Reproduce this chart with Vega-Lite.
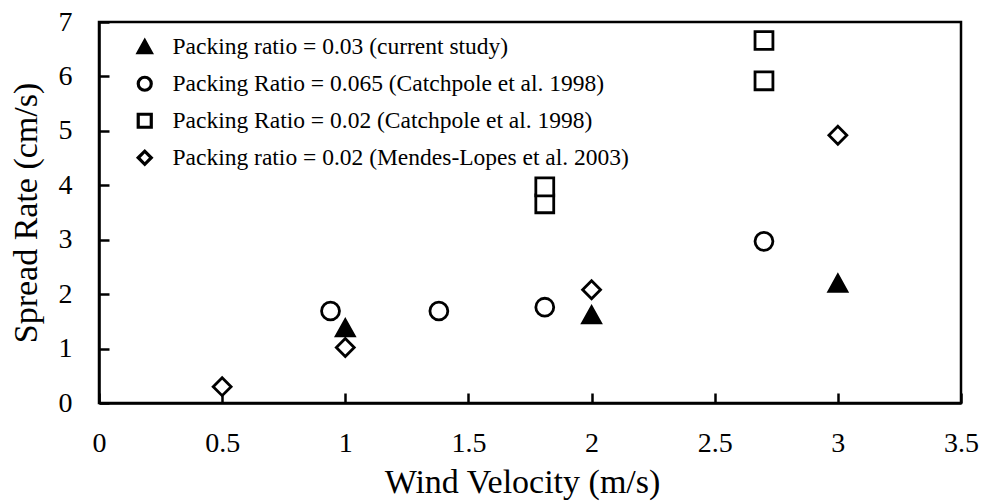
{
  "$schema": "https://vega.github.io/schema/vega-lite/v6.json",
  "width": 862,
  "height": 381,
  "autosize": {"type": "none"},
  "padding": {"left": 99, "top": 22, "right": 21, "bottom": 99},
  "background": "white",
  "config": {
    "font": "Liberation Serif",
    "view": {"stroke": "black", "strokeWidth": 2.5},
    "axis": {
      "grid": false,
      "domainColor": "black",
      "domainWidth": 2.5,
      "tickColor": "black",
      "tickWidth": 2.5,
      "tickSize": -10,
      "labelColor": "black",
      "labelFontSize": 28,
      "labelFont": "Liberation Serif",
      "titleFont": "Liberation Serif",
      "titleFontSize": 34,
      "titleFontWeight": "normal",
      "titleColor": "black"
    },
    "legend": {
      "labelFont": "Liberation Serif",
      "labelFontSize": 23.5,
      "labelColor": "black"
    }
  },
  "data": {
    "values": [
      {"series": "Packing ratio = 0.03 (current study)", "wind": 1.0, "rate": 1.38},
      {"series": "Packing ratio = 0.03 (current study)", "wind": 2.0, "rate": 1.62},
      {"series": "Packing ratio = 0.03 (current study)", "wind": 3.0, "rate": 2.2},
      {"series": "Packing Ratio = 0.065 (Catchpole et al. 1998)", "wind": 0.94, "rate": 1.69},
      {"series": "Packing Ratio = 0.065 (Catchpole et al. 1998)", "wind": 1.38, "rate": 1.69},
      {"series": "Packing Ratio = 0.065 (Catchpole et al. 1998)", "wind": 1.81, "rate": 1.76},
      {"series": "Packing Ratio = 0.065 (Catchpole et al. 1998)", "wind": 2.7, "rate": 2.97},
      {"series": "Packing Ratio = 0.02 (Catchpole et al. 1998)", "wind": 1.81, "rate": 3.66},
      {"series": "Packing Ratio = 0.02 (Catchpole et al. 1998)", "wind": 1.81, "rate": 3.97},
      {"series": "Packing Ratio = 0.02 (Catchpole et al. 1998)", "wind": 2.7, "rate": 5.92},
      {"series": "Packing Ratio = 0.02 (Catchpole et al. 1998)", "wind": 2.7, "rate": 6.66},
      {"series": "Packing ratio = 0.02 (Mendes-Lopes et al. 2003)", "wind": 0.5, "rate": 0.3},
      {"series": "Packing ratio = 0.02 (Mendes-Lopes et al. 2003)", "wind": 1.0, "rate": 1.02},
      {"series": "Packing ratio = 0.02 (Mendes-Lopes et al. 2003)", "wind": 2.0, "rate": 2.08},
      {"series": "Packing ratio = 0.02 (Mendes-Lopes et al. 2003)", "wind": 3.0, "rate": 4.92}
    ]
  },
  "mark": {"type": "point", "stroke": "black", "strokeWidth": 2.8, "size": 320, "opacity": 1},
  "encoding": {
    "x": {
      "field": "wind", "type": "quantitative",
      "title": "Wind Velocity (m/s)",
      "scale": {"domain": [0, 3.5], "nice": false, "zero": false},
      "axis": {"values": [0, 0.5, 1, 1.5, 2, 2.5, 3, 3.5], "format": "~g", "labelPadding": 36, "titlePadding": 8, "titleX": 423, "labelFlush": false, "labelOverlap": false}
    },
    "y": {
      "field": "rate", "type": "quantitative",
      "title": "Spread Rate (cm/s)",
      "scale": {"domain": [0, 7], "nice": false},
      "axis": {"values": [0, 1, 2, 3, 4, 5, 6, 7], "labelPadding": 37, "titlePadding": 15, "labelFlush": false, "labelOverlap": false}
    },
    "shape": {
      "field": "series", "type": "nominal",
      "scale": {
        "domain": ["Packing ratio = 0.03 (current study)", "Packing Ratio = 0.065 (Catchpole et al. 1998)", "Packing Ratio = 0.02 (Catchpole et al. 1998)", "Packing ratio = 0.02 (Mendes-Lopes et al. 2003)"],
        "range": ["M-1,0.9L0,-0.9L1,0.9Z", "circle", "square", "diamond"]
      },
      "legend": {
        "title": null,
        "orient": "none",
        "legendX": 34,
        "legendY": 13,
        "padding": 0,
        "symbolSize": 170,
        "symbolStrokeWidth": 3.2,
        "labelOffset": 16,
        "labelLimit": 700,
        "rowPadding": 10,
        "encode": {"symbols": {"update": {"stroke": {"value": "black"}, "strokeWidth": {"value": 3.2}}}}
      }
    },
    "fill": {
      "field": "series", "type": "nominal",
      "scale": {
        "domain": ["Packing ratio = 0.03 (current study)", "Packing Ratio = 0.065 (Catchpole et al. 1998)", "Packing Ratio = 0.02 (Catchpole et al. 1998)", "Packing ratio = 0.02 (Mendes-Lopes et al. 2003)"],
        "range": ["black", "white", "white", "white"]
      },
      "legend": {
        "title": null,
        "orient": "none",
        "legendX": 34,
        "legendY": 13,
        "padding": 0,
        "symbolSize": 170,
        "symbolStrokeWidth": 3.2,
        "labelOffset": 16,
        "labelLimit": 700,
        "rowPadding": 10,
        "encode": {"symbols": {"update": {"stroke": {"value": "black"}, "strokeWidth": {"value": 3.2}}}}
      }
    }
  }
}
